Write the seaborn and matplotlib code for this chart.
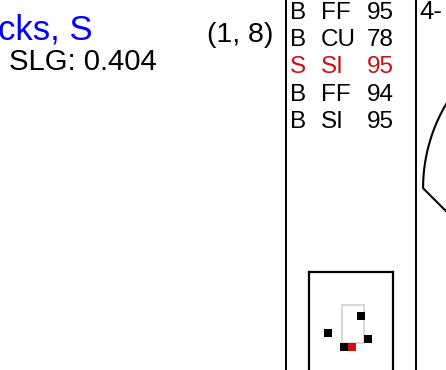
import numpy as np
import pandas as pd
import matplotlib
matplotlib.use('Agg')
import matplotlib.pyplot as plt
import seaborn as sns
from matplotlib.patches import Rectangle

# pitches of the at-bat
result = ['B', 'B', 'S', 'B', 'B']
pitch_type = ['FF', 'CU', 'SI', 'FF', 'SI']
speed = [95, 78, 95, 94, 95]
plate_x = [-1.89, -0.68, -0.08, 1.13, 0.60]
plate_z = [2.03, 1.29, 1.29, 1.71, 2.92]

batter = 'cks, S'
slg = 0.404
pair_label = '(1, 8)'
play_label = '4-'

df = pd.DataFrame({'result': result, 'pitch_type': pitch_type,
                   'speed': speed, 'plate_x': plate_x, 'plate_z': plate_z})

sns.set_style('white')
plt.rcParams['font.family'] = ['Liberation Sans', 'DejaVu Sans']
plt.rcParams['text.color'] = 'black'

W, H = 446, 370
fig = plt.figure(figsize=(W / 100, H / 100), dpi=100)
fx = lambda px: px / W
fy = lambda py: 1 - py / H

red = '#cc1111'
pal = {'B': 'black', 'S': red}

# header texts
fig.text(fx(93), fy(39), batter, color='blue', fontsize=25, ha='right', va='baseline')
fig.text(fx(9), fy(70), f'SLG: {slg:.3f}', fontsize=21.2, ha='left', va='baseline')
fig.text(fx(273), fy(42), pair_label, fontsize=20.5, ha='right', va='baseline')

# pitch list panel
ax_list = fig.add_axes([fx(286), -0.1, (416 - 286) / W, 1.2])
ax_list.set_xticks([])
ax_list.set_yticks([])
for side in ['top', 'bottom']:
    ax_list.spines[side].set_visible(False)
for side in ['left', 'right']:
    ax_list.spines[side].set_color('black')
    ax_list.spines[side].set_linewidth(1.4)

fs = 17.5
for i, row in df.iterrows():
    y = fy(19 + 27.2 * i)
    c = pal[row['result']]
    fig.text(fx(290), y, row['result'], color=c, fontsize=fs, va='baseline')
    fig.text(fx(321), y, row['pitch_type'], color=c, fontsize=fs, va='baseline')
    fig.text(fx(366.5), y, str(row['speed']), color=c, fontsize=fs, va='baseline')

# strike zone plot
ax_zone = fig.add_axes([fx(309), fy(382), 84 / W, 110 / H])
ax_zone.add_patch(Rectangle((-0.83, 1.5), 1.66, 2.0, fill=False,
                            edgecolor='#d9d9d9', linewidth=1.5))
sns.scatterplot(data=df, x='plate_x', y='plate_z', hue='result', palette=pal,
                marker='s', s=30, linewidth=0, legend=False, ax=ax_zone)
ax_zone.set_xlim(-3.32, 3.02)
ax_zone.set_ylim(-0.55, 5.24)
ax_zone.set_xticks([])
ax_zone.set_yticks([])
ax_zone.set_xlabel('')
ax_zone.set_ylabel('')
for sp in ax_zone.spines.values():
    sp.set_color('black')
    sp.set_linewidth(1.6)

# field outline
ax_field = fig.add_axes([fx(416), fy(390), 344 / W, 410 / H])
pole = 233
arc_t = np.linspace(np.pi, 0, 200)
field_x = np.concatenate([[0], pole * np.cos(arc_t), [0]])
field_y = np.concatenate([[0], pole + pole * np.sin(arc_t), [0]])
ax_field.plot(field_x, field_y, color='black', linewidth=1.5)
ax_field.set_xlim(-243, 243)
ax_field.set_ylim(-52, 527)
ax_field.axis('off')
fig.text(fx(419), fy(19), play_label, fontsize=18.5, va='baseline')

fig.savefig('out.png', dpi=100)
